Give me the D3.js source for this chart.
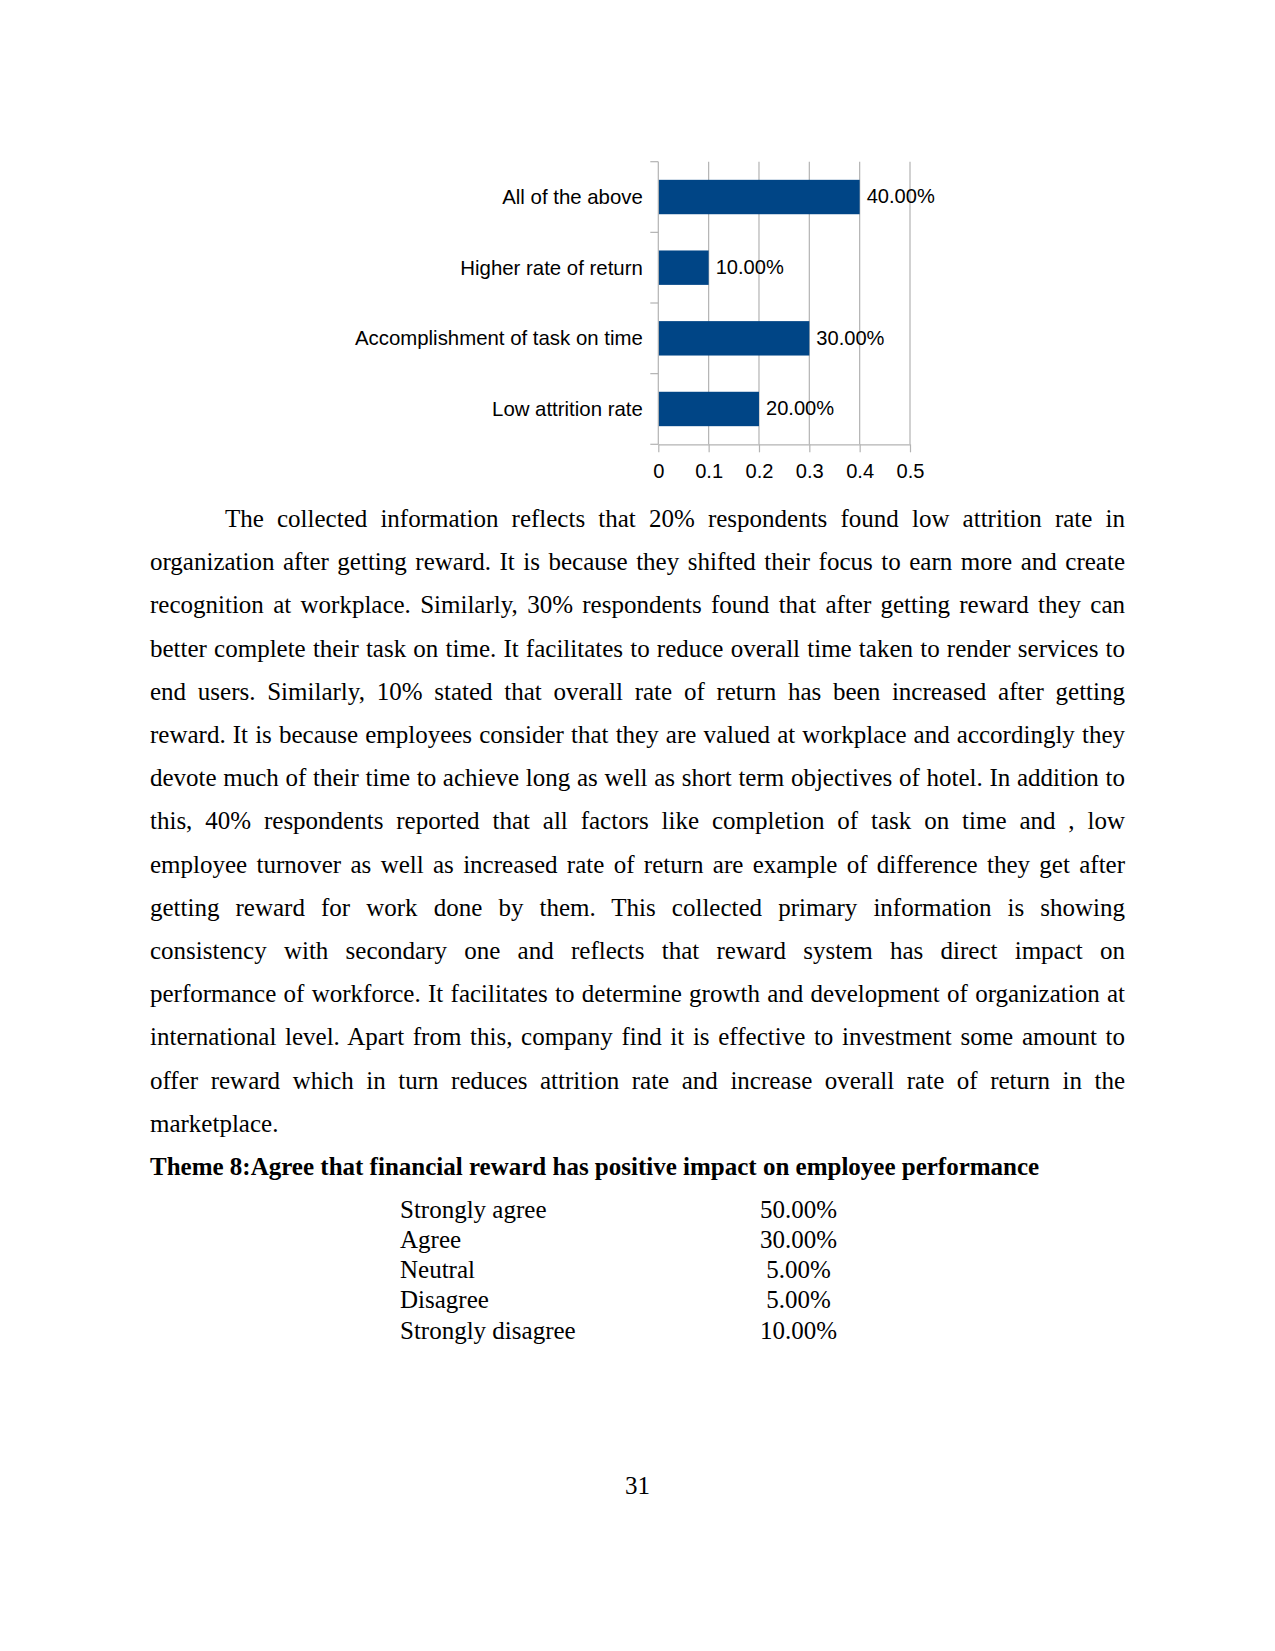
<!DOCTYPE html>
<html>
<head>
<meta charset="utf-8">
<script src="https://cdn.jsdelivr.net/npm/d3@7"></script>
<style>
  html, body { margin: 0; padding: 0; background: #ffffff; }
  svg { display: block; }
</style>
</head>
<body>
<svg id="page" width="1275" height="1651"></svg>
<script>
// ---------- data ----------
const categories = ["All of the above", "Higher rate of return", "Accomplishment of task on time", "Low attrition rate"];
const values = [0.4, 0.1, 0.3, 0.2];
const valueLabels = ["40.00%", "10.00%", "30.00%", "20.00%"];
const xTicks = [0, 0.1, 0.2, 0.3, 0.4, 0.5];
const xTickLabels = ["0", "0.1", "0.2", "0.3", "0.4", "0.5"];

const bodyLines = [
  "The collected information reflects that 20% respondents found low attrition rate in",
  "organization after getting reward. It is because they shifted their focus to earn more and create",
  "recognition at workplace. Similarly, 30% respondents found that after getting reward they can",
  "better complete their task on time. It facilitates to reduce overall time taken to render services to",
  "end users. Similarly, 10% stated that overall rate of return has been increased after getting",
  "reward. It is because employees consider that they are valued at workplace and accordingly they",
  "devote much of their time to achieve long as well as short term objectives of hotel. In addition to",
  "this, 40% respondents reported that all factors like completion of task on time and , low",
  "employee turnover as well as increased rate of return are example of difference they get after",
  "getting reward for work done by them. This collected primary information is showing",
  "consistency with secondary one and reflects that reward system has direct impact on",
  "performance of workforce. It facilitates to determine growth and development of organization at",
  "international level. Apart from this, company find it is effective to investment some amount to",
  "offer reward which in turn reduces attrition rate and increase overall rate of return in the",
  "marketplace."
];
const headingText = "Theme 8:Agree that financial reward has positive impact on employee performance";
const tableLabels = ["Strongly agree", "Agree", "Neutral", "Disagree", "Strongly disagree"];
const tableValues = ["50.00%", "30.00%", "5.00%", "5.00%", "10.00%"];
const pageNumber = "31";

// ---------- page ----------
const svg = d3.select("#page");
svg.append("rect").attr("width", 1275).attr("height", 1651).attr("fill", "#ffffff");

const sans = "'Liberation Sans', Arial, sans-serif";
const serif = "'Liberation Serif', 'Times New Roman', serif";
const gridColor = "#b3b3b3";
const barColor = "#004586";
const chartFont = 20.1;
const catFont = 20.4;

// ---------- chart ----------
const plot = { left: 658.3, right: 910, top: 161.7, bottom: 444.3 };
const x = d3.scaleLinear().domain([0, 0.5]).range([plot.left, plot.right]);
const y = d3.scaleBand().domain(categories).range([plot.top, plot.bottom])
  .paddingInner(0.513).paddingOuter(0.2565);
const step = y.step();

const chart = svg.append("g");

// vertical gridlines
chart.append("g").selectAll("line").data(xTicks.filter(d => d > 0)).join("line")
  .attr("x1", d => x(d)).attr("x2", d => x(d))
  .attr("y1", plot.top).attr("y2", plot.bottom)
  .attr("stroke", gridColor).attr("stroke-width", 1.2);

// bars
chart.append("g").selectAll("rect").data(categories).join("rect")
  .attr("x", x(0))
  .attr("y", d => y(d))
  .attr("width", (d, i) => x(values[i]) - x(0))
  .attr("height", y.bandwidth())
  .attr("fill", barColor);

// category axis (left): line + ticks at band boundaries
chart.append("line")
  .attr("x1", x(0)).attr("x2", x(0)).attr("y1", plot.top).attr("y2", plot.bottom)
  .attr("stroke", gridColor).attr("stroke-width", 1.2);
const boundaries = categories.map(c => y(c) - y.paddingOuter() * step).concat([plot.bottom]);
chart.append("g").selectAll("line").data(boundaries).join("line")
  .attr("x1", x(0) - 8).attr("x2", x(0))
  .attr("y1", d => d).attr("y2", d => d)
  .attr("stroke", gridColor).attr("stroke-width", 1.2);

// value axis (bottom)
const xAxis = d3.axisBottom(x).tickValues(xTicks)
  .tickFormat((d, i) => xTickLabels[i]).tickSize(8).tickSizeOuter(0).tickPadding(10);
const gx = chart.append("g").attr("transform", `translate(0,${plot.bottom})`).call(xAxis);
gx.select(".domain").attr("stroke", gridColor).attr("stroke-width", 1.2);
gx.selectAll(".tick line").attr("stroke", gridColor).attr("stroke-width", 1.2);
gx.selectAll(".tick text").attr("fill", "#000").attr("font-family", sans)
  .attr("font-size", chartFont).attr("y", 34).attr("dy", 0);

// category labels
chart.append("g").selectAll("text").data(categories).join("text")
  .attr("x", x(0) - 15.5)
  .attr("y", d => y(d) + y.bandwidth() / 2)
  .attr("dy", "0.34em")
  .attr("text-anchor", "end")
  .attr("font-family", sans).attr("font-size", catFont).attr("fill", "#000")
  .text(d => d);

// value labels
chart.append("g").selectAll("text").data(categories).join("text")
  .attr("x", (d, i) => x(values[i]) + 7)
  .attr("y", d => y(d) + y.bandwidth() / 2)
  .attr("dy", "0.32em")
  .attr("font-family", sans).attr("font-size", chartFont).attr("fill", "#000")
  .text((d, i) => valueLabels[i]);

// ---------- body text (justified) ----------
const textLeft = 150, textRight = 1125, indent = 75, firstBaseline = 527, lineGap = 43.2;
const body = svg.append("g").attr("font-family", serif).attr("font-size", 25).attr("fill", "#000");
bodyLines.forEach((line, i) => {
  const x0 = i === 0 ? textLeft + indent : textLeft;
  const t = body.append("text")
    .attr("x", x0).attr("y", firstBaseline + i * lineGap)
    .style("white-space", "pre")
    .text(line);
  if (i < bodyLines.length - 1) {
    const natural = t.node().getComputedTextLength();
    const spaces = (line.match(/ /g) || []).length;
    if (spaces > 0) {
      const ws = (textRight - x0 - natural) / spaces;
      t.style("word-spacing", ws + "px");
    }
  }
});

// heading
svg.append("text")
  .attr("x", 150).attr("y", 1175)
  .attr("font-family", serif).attr("font-size", 25).attr("font-weight", "bold").attr("fill", "#000")
  .text(headingText);

// table
const table = svg.append("g").attr("font-family", serif).attr("font-size", 25).attr("fill", "#000");
table.selectAll("text.lab").data(tableLabels).join("text").attr("class", "lab")
  .attr("x", 400).attr("y", (d, i) => 1217.5 + i * 30.3).text(d => d);
table.selectAll("text.val").data(tableValues).join("text").attr("class", "val")
  .attr("x", 798.5).attr("y", (d, i) => 1217.5 + i * 30.3)
  .attr("text-anchor", "middle").text(d => d);

// page number
svg.append("text")
  .attr("x", 637.5).attr("y", 1494)
  .attr("text-anchor", "middle")
  .attr("font-family", serif).attr("font-size", 25).attr("fill", "#000")
  .text(pageNumber);
</script>
</body>
</html>
